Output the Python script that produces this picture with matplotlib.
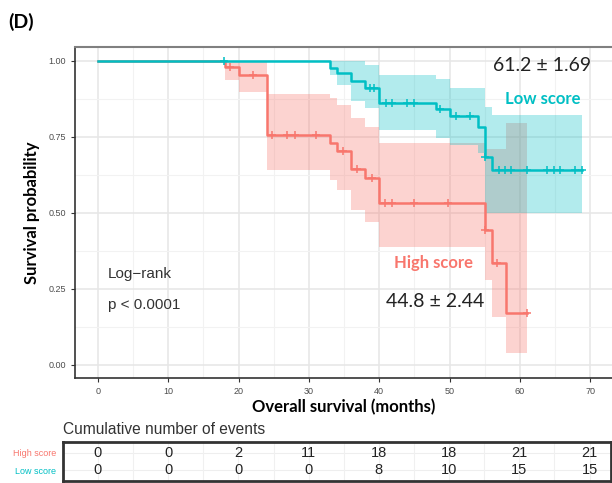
import numpy as np
from matplotlib import pyplot as plt
from matplotlib.ticker import MultipleLocator

RED = '#F8766D'
TEAL = '#00BFC4'

# Kaplan-Meier steps
high_times = [0, 18, 20, 24, 33, 34, 36, 38, 40, 55, 56, 58, 61]
high_surv = [1.0, 0.98, 0.955, 0.757, 0.73, 0.703, 0.643, 0.614, 0.532, 0.444, 0.334, 0.17, 0.17]
high_ci_times = [18, 20, 24, 33, 34, 36, 38, 40, 55, 56, 58, 61]
high_upper = [1.0, 1.0, 0.89, 0.877, 0.855, 0.811, 0.784, 0.729, 0.712, 0.712, 0.797, 0.797]
high_lower = [0.937, 0.898, 0.641, 0.609, 0.576, 0.51, 0.471, 0.389, 0.28, 0.159, 0.038, 0.038]
high_censor = [18.8, 22, 24.8, 26.9, 28, 31, 34.8, 36.8, 38.9, 40.8, 41.8, 44.9, 49.8, 55.1, 56.8, 61]

low_times = [0, 33, 34, 36, 38, 40, 48, 50, 54, 55, 56, 68.8]
low_surv = [1.0, 0.976, 0.96, 0.933, 0.91, 0.862, 0.841, 0.819, 0.784, 0.685, 0.641, 0.641]
low_ci_times = [33, 34, 36, 38, 40, 48, 50, 54, 55, 56, 68.8]
low_upper = [1.0, 1.0, 1.0, 0.987, 0.954, 0.94, 0.91, 0.91, 0.85, 0.822, 0.822]
low_lower = [0.954, 0.921, 0.868, 0.844, 0.773, 0.745, 0.724, 0.696, 0.5, 0.5, 0.5]
low_censor = [17.9, 38.7, 39.2, 41, 41.8, 43.9, 44.9, 48.6, 50.9, 52.9, 55.1, 57, 57.9, 58.8,
              61, 63.9, 64.9, 65.7, 67.9, 68.8]

# risk table
table_times = [0, 10, 20, 30, 40, 50, 60, 70]
high_events = [0, 0, 2, 11, 18, 18, 21, 21]
low_events = [0, 0, 0, 0, 8, 10, 15, 15]


def surv_at(times, surv, t):
    i = np.searchsorted(times, t, side='right') - 1
    return np.array(surv)[i]


fig = plt.figure(figsize=(6.12, 4.83), dpi=100)
ax = fig.add_axes([75 / 612, 1 - 378 / 483, 1 - 75 / 612, (378 - 47) / 483])

ax.set_xlim(-3.27, 73.1)
ax.set_ylim(-0.043, 1.046)
ax.xaxis.set_major_locator(MultipleLocator(10))
ax.xaxis.set_minor_locator(MultipleLocator(5))
ax.yaxis.set_major_locator(MultipleLocator(0.25))
ax.yaxis.set_minor_locator(MultipleLocator(0.125))
ax.grid(which='major', color='#E6E6E6', lw=1.1)
ax.grid(which='minor', color='#F2F2F2', lw=0.8)
ax.set_axisbelow(True)
ax.tick_params(which='minor', length=0)
ax.tick_params(which='major', length=3, color='#333333', labelsize=6.5, labelcolor='#4D4D4D')
ax.yaxis.set_major_formatter(plt.FuncFormatter(lambda v, p: '%.2f' % v))
for lab in ax.get_xticklabels() + ax.get_yticklabels():
    lab.set_family('Liberation Sans')
ax.spines['right'].set_visible(False)
ax.spines['top'].set_color('#808080')
ax.spines['top'].set_linewidth(1.5)
ax.spines['left'].set_color('#333333')
ax.spines['bottom'].set_color('#333333')
ax.spines['left'].set_linewidth(1.2)
ax.spines['bottom'].set_linewidth(1.2)

# bands
ax.fill_between(high_ci_times, high_lower, high_upper, step='post', color=RED, alpha=0.32, lw=0)
ax.fill_between(low_ci_times, low_lower, low_upper, step='post', color=TEAL, alpha=0.3, lw=0)

# curves
ax.plot(high_times, high_surv, drawstyle='steps-post', color=RED, lw=1.8)
ax.plot(low_times, low_surv, drawstyle='steps-post', color=TEAL, lw=1.8)
ax.plot(high_censor, surv_at(high_times, high_surv, high_censor), ls='none', marker='+',
        ms=6, mew=1.1, color=RED)
ax.plot(low_censor, surv_at(low_times, low_surv, low_censor), ls='none', marker='+',
        ms=6, mew=1.1, color=TEAL)

ax.set_ylabel('Survival probability', fontsize=12, fontweight='bold', family='Lato', labelpad=6)
ax.set_xlabel('Overall survival (months)', fontsize=12, fontweight='bold', family='Lato', labelpad=2)

ax.text(63.1, 0.985, '61.2 \u00b1 1.69', fontsize=14, family='Lato', ha='center', va='center',
        color='#222222')
ax.text(63.3, 0.875, 'Low score', fontsize=12, family='Lato', fontweight='bold', ha='center',
        va='center', color=TEAL)
ax.text(47.7, 0.335, 'High score', fontsize=12, family='Lato', fontweight='bold', ha='center',
        va='center', color=RED)
ax.text(47.9, 0.21, '44.8 \u00b1 2.44', fontsize=14, family='Lato', ha='center', va='center',
        color='#222222')
ax.text(1.4, 0.30, 'Log\u2212rank', fontsize=11, family='Liberation Sans', va='center',
        color='#333333')
ax.text(1.4, 0.197, 'p < 0.0001', fontsize=11, family='Liberation Sans', va='center',
        color='#333333')

fig.text(8 / 612, 1 - 22 / 483, '(D)', fontsize=14, fontweight='bold', family='Lato', va='center')
fig.text(63 / 612, 1 - 430 / 483, 'Cumulative number of events', fontsize=11.2,
         family='Liberation Sans', va='center', color='#333333')

# risk table
tab = fig.add_axes([63 / 612, 2 / 483, 1 - 63 / 612 - 0.001, 39 / 483])
tab.set_xlim(-4.98, 73.1)
tab.set_ylim(-0.6, 1.6)
for t, h, l in zip(table_times, high_events, low_events):
    tab.text(t, 1, str(h), ha='center', va='center', fontsize=10.5, family='Liberation Sans',
             color='#222222')
    tab.text(t, 0, str(l), ha='center', va='center', fontsize=10.5, family='Liberation Sans',
             color='#222222')
tab.set_xticks(table_times)
tab.set_xticks([5, 15, 25, 35, 45, 55, 65], minor=True)
tab.tick_params(axis='x', which='both', length=0, labelbottom=False)
tab.grid(axis='x', which='both', color='#F0F0F0', lw=0.8)
tab.axhline(1, color='#EEEEEE', lw=0.8, zorder=0)
tab.axhline(0, color='#EEEEEE', lw=0.8, zorder=0)
tab.set_yticks([1, 0])
tab.set_yticklabels(['High score', 'Low score'], fontsize=6.5, family='Liberation Sans')
tab.get_yticklabels()[0].set_color(RED)
tab.get_yticklabels()[1].set_color(TEAL)
tab.tick_params(axis='y', length=0, pad=5)
for s in tab.spines.values():
    s.set_linewidth(2)
    s.set_color('#333333')

fig.savefig('out.png', dpi=100)
